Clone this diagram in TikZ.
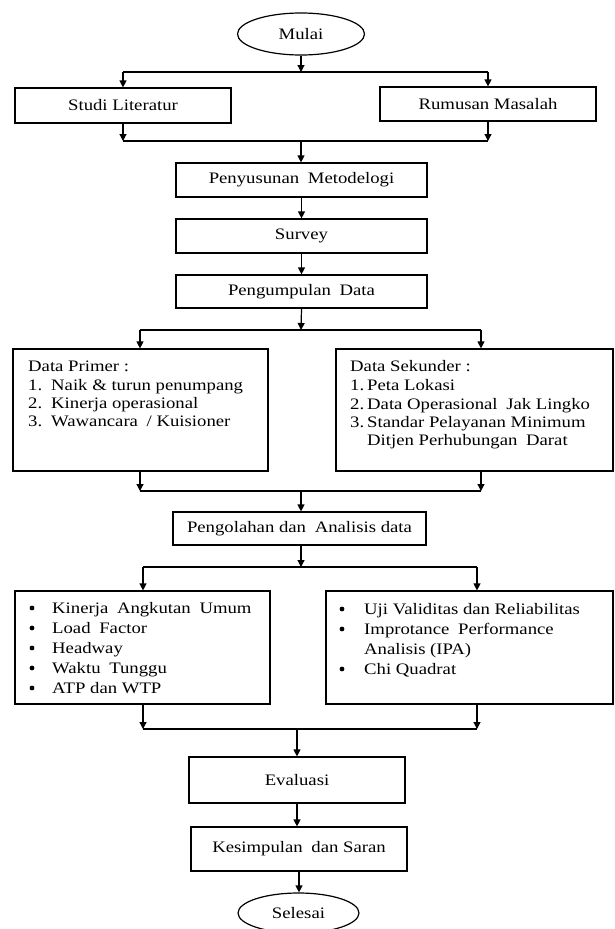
\documentclass[tikz,border=0pt]{standalone}
\usepackage{fontspec}
\setmainfont{Liberation Serif}[FakeStretch=1.17]
\usetikzlibrary{arrows.meta,shapes.geometric}
\newcommand{\wsp}{\hspace{4pt} }
\begin{document}
\begin{tikzpicture}[x=1pt,y=-1pt,
  font=\fontsize{16}{18.5}\selectfont,
  box/.style={draw, line width=1.2pt, inner sep=0pt, rectangle},
  oval/.style={draw, line width=1.2pt, inner sep=0pt, ellipse},
  conn/.style={line width=1.2pt},
  arr/.style={line width=1.2pt, -{Triangle[length=7pt,width=7pt]}},
  txt/.style={anchor=base west, inner sep=0pt},
  dot/.style={fill=black}]
\useasboundingbox (0,0) rectangle (614,929);

% --- nodes ---
\node[oval, minimum width=127, minimum height=42] (mulai) at (301,34) {Mulai};
\node[box, minimum width=216, minimum height=35] (studi) at (123,105.5) {Studi Literatur};
\node[box, minimum width=216, minimum height=34] (rumusan) at (488,104) {Rumusan Masalah};
\node[box, minimum width=251, minimum height=34] (metod) at (301.5,180) {Penyusunan\wsp Metodelogi};
\node[box, minimum width=251, minimum height=34] (survey) at (301.5,236) {Survey};
\node[box, minimum width=251, minimum height=33] (kumpul) at (301.5,291.5) {Pengumpulan\wsp Data};
\node[box, minimum width=255, minimum height=122] (primer) at (140.5,410) {};
\node[box, minimum width=277, minimum height=122] (sekunder) at (474.5,410) {};
\node[box, minimum width=253, minimum height=33] (olah) at (299.5,528.5) {Pengolahan dan\wsp Analisis data};
\node[box, minimum width=255, minimum height=113] (kinerja) at (142.5,647.5) {};
\node[box, minimum width=287, minimum height=113] (uji) at (469.5,647.5) {};
\node[box, minimum width=216, minimum height=46] (eval) at (297,780) {Evaluasi};
\node[box, minimum width=216, minimum height=44] (simpul) at (299,849) {Kesimpulan\wsp dan Saran};
\node[oval, minimum width=121, minimum height=40] (selesai) at (298.5,913) {Selesai};

% --- list texts ---
\node[txt] (p0) at (28,371) {Data Primer :};
\node[txt] (p1) at (28,390) {\makebox[23pt][l]{1.}Naik \& turun penumpang};
\node[txt] (p2) at (28,408) {\makebox[23pt][l]{2.}Kinerja operasional};
\node[txt] (p3) at (28,426.5) {\makebox[23pt][l]{3.}Wawancara\wsp / Kuisioner};

\node[txt] (s0) at (350,371) {Data Sekunder :};
\node[txt] (s1) at (350,390) {\makebox[17pt][l]{1.}Peta Lokasi};
\node[txt] (s2) at (350,409) {\makebox[17pt][l]{2.}Data Operasional\wsp Jak Lingko};
\node[txt] (s3) at (350,427) {\makebox[17pt][l]{3.}Standar Pelayanan Minimum};
\node[txt] (s4) at (367,445) {Ditjen Perhubungan\wsp Darat};

\node[txt] (k1) at (52,613) {Kinerja\wsp Angkutan\wsp Umum};
\node[txt] (k2) at (52,633) {Load\wsp Factor};
\node[txt] (k3) at (52,653) {Headway};
\node[txt] (k4) at (52,673) {Waktu\wsp Tunggu};
\node[txt] (k5) at (52,693) {ATP dan WTP};
\foreach \n in {k1,k2,k3,k4,k5}
  \fill[dot] ([xshift=-20pt,yshift=5pt]\n.base west) circle (2.4pt);

\node[txt] (u1) at (364,614) {Uji Validitas dan Reliabilitas};
\node[txt] (u2) at (364,634) {Improtance\wsp Performance};
\node[txt] (u3) at (364,654) {Analisis (IPA)};
\node[txt] (u4) at (364,674) {Chi Quadrat};
\foreach \n in {u1,u2,u4}
  \fill[dot] ([xshift=-22pt,yshift=5pt]\n.base west) circle (2.4pt);

% --- junction coordinates ---
\coordinate (a0) at (301,72);  \coordinate (aL) at (123,72);  \coordinate (aR) at (488,72);
\coordinate (b0) at (301,141); \coordinate (bL) at (123,141); \coordinate (bR) at (488,141);
\coordinate (c0) at (301,330); \coordinate (cL) at (140,330); \coordinate (cR) at (481,330);
\coordinate (d0) at (301,491); \coordinate (dL) at (140,491); \coordinate (dR) at (481,491);
\coordinate (e0) at (301,567); \coordinate (eL) at (143,567); \coordinate (eR) at (477,567);
\coordinate (f0) at (297,729); \coordinate (fL) at (143,729); \coordinate (fR) at (477,729);

% --- connectors ---
\draw[arr] (mulai.south) -- (a0);
\draw[conn] (aL) -- (aR);
\draw[arr] (aL) -- (aL |- studi.north);
\draw[arr] (aR) -- (aR |- rumusan.north);
\draw[arr] (bL |- studi.south) -- (bL);
\draw[arr] (bR |- rumusan.south) -- (bR);
\draw[conn] (bL) -- (bR);
\draw[arr] (b0) -- (b0 |- metod.north);
\draw[arr] (metod.south) -- (survey.north);
\draw[arr] (survey.south) -- (kumpul.north);
\draw[arr] (kumpul.south) -- (c0);
\draw[conn] (cL) -- (cR);
\draw[arr] (cL) -- (cL |- primer.north);
\draw[arr] (cR) -- (cR |- sekunder.north);
\draw[arr] (dL |- primer.south) -- (dL);
\draw[arr] (dR |- sekunder.south) -- (dR);
\draw[conn] (dL) -- (dR);
\draw[arr] (d0) -- (d0 |- olah.north);
\draw[arr] (e0 |- olah.south) -- (e0);
\draw[conn] (eL) -- (eR);
\draw[arr] (eL) -- (eL |- kinerja.north);
\draw[arr] (eR) -- (eR |- uji.north);
\draw[arr] (fL |- kinerja.south) -- (fL);
\draw[arr] (fR |- uji.south) -- (fR);
\draw[conn] (fL) -- (fR);
\draw[arr] (f0) -- (f0 |- eval.north);
\draw[arr] (eval.south) -- (eval.south |- simpul.north);
\draw[arr] (simpul.south) -- (simpul.south |- selesai.north);
\end{tikzpicture}
\end{document}
